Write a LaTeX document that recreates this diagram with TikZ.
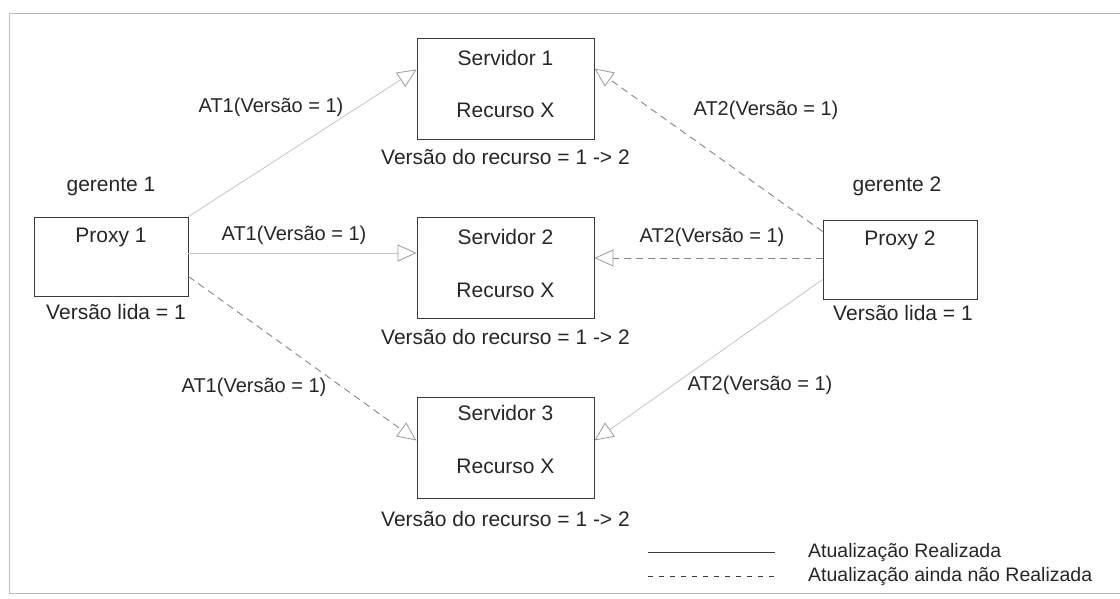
\documentclass[tikz,border=0pt]{standalone}
\usepackage{fontspec}
\setmainfont{Liberation Sans}
\usetikzlibrary{arrows.meta}

\definecolor{boxline}{HTML}{3A3A3A}
\definecolor{doneline}{HTML}{C4C4C4}
\definecolor{todoline}{HTML}{858585}
\definecolor{tipcol}{HTML}{9A9A9A}
\definecolor{framecol}{HTML}{BDBDBD}

\tikzset{
  txt/.style={font=\fontsize{21}{25}\selectfont, inner sep=0pt, text=black!85},
  lbl/.style={font=\fontsize{20}{24}\selectfont, inner sep=0pt, text=black!85},
  legtxt/.style={font=\fontsize{19.5}{23}\selectfont, inner sep=0pt, anchor=west, text=black!85},
  srvbox/.style={draw=boxline, line width=0.9pt, minimum width=177pt, minimum height=101pt, inner sep=0pt},
  pxybox/.style={draw=boxline, line width=0.9pt, minimum width=154pt, minimum height=79pt, inner sep=0pt},
  tip/.style={-{Triangle[open, length=19pt, width=17pt, line width=0.8pt, color=tipcol]}},
  done/.style={tip, draw=doneline, line width=0.8pt},
  todo/.style={tip, draw=todoline, line width=0.9pt, dash pattern=on 7pt off 5pt},
}

\begin{document}
\begin{tikzpicture}[x=1pt, y=-1pt]
  \useasboundingbox (0,0) rectangle (1120,598);

  % outer frame
  \draw[framecol, line width=0.8pt] (1120,13) -- (9,13) -- (9,593) -- (1120,593);

  % servers
  \node[srvbox] (s1) at (505.5,88.5) {};
  \node[txt] (s1t) at (505.5,58) {Servidor 1};
  \node[txt] (s1r) at (505.5,110) {Recurso X};
  \node[txt] (s1v) at (505.5,157) {Versão do recurso = 1 -> 2};

  \node[srvbox] (s2) at (505.5,268) {};
  \node[txt] (s2t) at (505.5,237) {Servidor 2};
  \node[txt] (s2r) at (505.5,290) {Recurso X};
  \node[txt] (s2v) at (505.5,337) {Versão do recurso = 1 -> 2};

  \node[srvbox] (s3) at (505.5,447.5) {};
  \node[txt] (s3t) at (505.5,413) {Servidor 3};
  \node[txt] (s3r) at (505.5,466) {Recurso X};
  \node[txt] (s3v) at (505.5,519) {Versão do recurso = 1 -> 2};

  % proxies
  \node[pxybox] (p1) at (111,256.5) {};
  \node[txt] (p1t) at (111,237) {Proxy 1};
  \node[txt] (p1g) at (111,186) {gerente 1};
  \node[txt] (p1v) at (116,312) {Versão lida = 1};

  \node[pxybox] (p2) at (900,259.5) {};
  \node[txt] (p2t) at (900,240) {Proxy 2};
  \node[txt] (p2g) at (897,186) {gerente 2};
  \node[txt] (p2v) at (903,313) {Versão lida = 1};

  % updates sent by proxy 1
  \draw[done] (p1.north east) -- ([yshift=19pt]s1.west);
  \draw[done] ([yshift=3.5pt]p1.east) -- ([yshift=15pt]s2.west);
  \draw[todo] ([yshift=-20pt]p1.east) -- ([yshift=7pt]s3.west);
  \node[lbl] (a11) at (271,107) {AT1(Versão = 1)};
  \node[lbl] (a12) at (294,235) {AT1(Versão = 1)};
  \node[lbl] (a13) at (254,387) {AT1(Versão = 1)};

  % updates sent by proxy 2
  \draw[todo] ([yshift=28pt]p2.west) -- ([yshift=20pt]s1.east);
  \draw[todo] ([yshift=1.5pt]p2.west) -- ([yshift=10pt]s2.east);
  \draw[done] ([yshift=-20pt]p2.west) -- ([yshift=7pt]s3.east);
  \node[lbl] (a21) at (766,110) {AT2(Versão = 1)};
  \node[lbl] (a22) at (712,237) {AT2(Versão = 1)};
  \node[lbl] (a23) at (760,385) {AT2(Versão = 1)};

  % legend
  \coordinate (l1a) at (648,552);
  \coordinate (l1b) at (775,552);
  \coordinate (l2a) at (648,576);
  \coordinate (l2b) at (775,576);
  \draw[boxline, line width=0.8pt] (l1a) -- (l1b);
  \draw[boxline, line width=0.8pt, dash pattern=on 5pt off 6pt] (l2a) -- (l2b);
  \node[legtxt] (lg1) at (808,552) {Atualização Realizada};
  \node[legtxt] (lg2) at (808,576) {Atualização ainda não Realizada};
\end{tikzpicture}
\end{document}
